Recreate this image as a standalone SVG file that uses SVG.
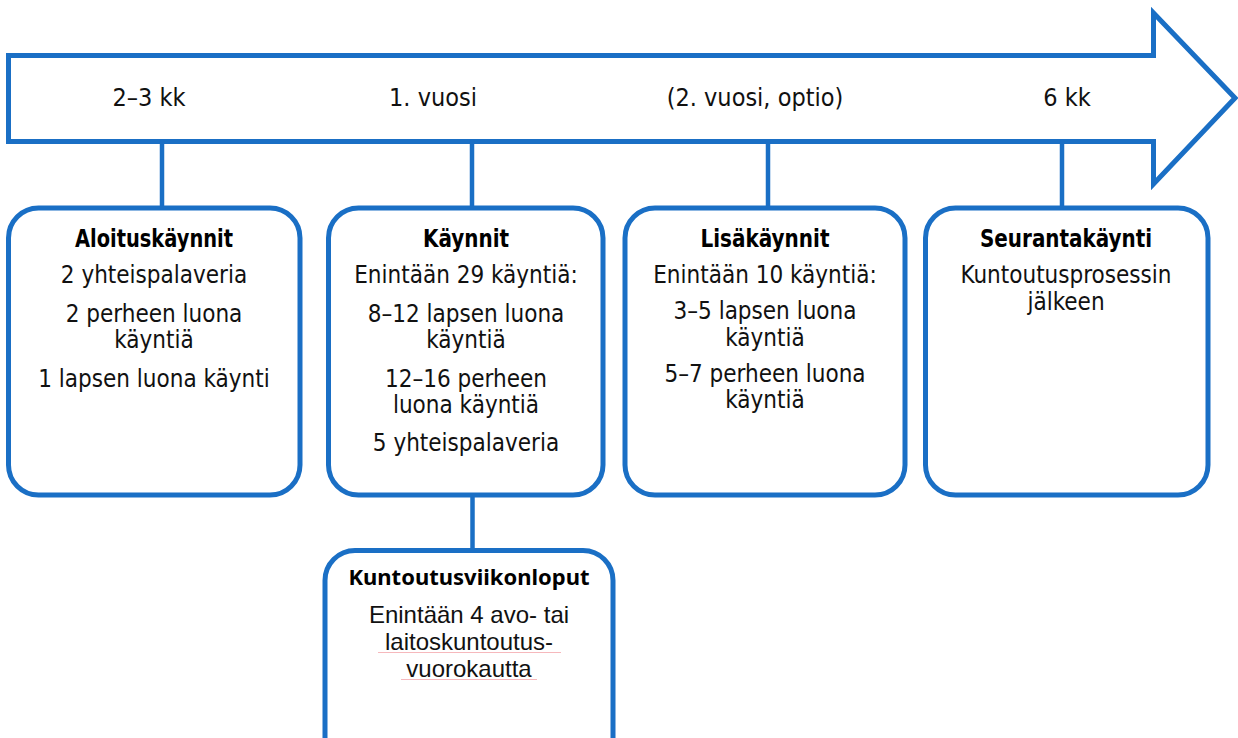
<svg xmlns="http://www.w3.org/2000/svg" width="1238" height="738" viewBox="0 0 1238 738">
<style>
.box{fill:#ffffff;stroke:#1A6FC5;stroke-width:5}
.con{stroke:#1A6FC5;stroke-width:4.5;fill:none}
.t{font-family:"DejaVu Sans Condensed","DejaVu Sans",sans-serif;font-size:24px;fill:#111;text-anchor:middle}
.tl{font-family:"DejaVu Sans Condensed","DejaVu Sans",sans-serif;font-size:25px;fill:#111;text-anchor:middle}
.h{font-family:"DejaVu Sans Condensed","DejaVu Sans",sans-serif;font-size:24px;font-weight:bold;fill:#000;text-anchor:middle}
.nt{font-family:"Liberation Sans",Arial,sans-serif;font-size:24px;fill:#111;text-anchor:middle}
.nh{font-family:"Noto Sans",sans-serif;font-size:22px;font-weight:bold;fill:#000;text-anchor:middle}
.sp{stroke:#f6b8bc;stroke-width:1;fill:none}
</style>
<rect width="1238" height="738" fill="#ffffff"/>
<g id="timeline">
<polygon points="8.5,55.5 1153.5,55.5 1153.5,13 1235,98 1153.5,184 1153.5,141.5 8.5,141.5" fill="#ffffff" stroke="#1A6FC5" stroke-width="5"/>
<text class="tl" x="149" y="106">2–3 kk</text>
<text class="tl" x="433" y="106">1. vuosi</text>
<text class="tl" x="755" y="106">(2. vuosi, optio)</text>
<text class="tl" x="1067" y="106">6 kk</text>
</g>
<g id="connectors">
<line class="con" x1="162" y1="141" x2="162" y2="208"/>
<line class="con" x1="472" y1="141" x2="472" y2="208"/>
<line class="con" x1="768" y1="141" x2="768" y2="208"/>
<line class="con" x1="1062" y1="141" x2="1062" y2="208"/>
<line class="con" x1="472.5" y1="495" x2="472.5" y2="550"/>
</g>
<g id="aloituskaynnit">
<rect class="box" x="8.5" y="208" width="291.5" height="287" rx="30"/>
<text class="h" x="154" y="247" textLength="158" lengthAdjust="spacingAndGlyphs">Aloituskäynnit</text>
<text class="t" x="154" y="283">2 yhteispalaveria</text>
<text class="t" x="154" y="322">2 perheen luona</text>
<text class="t" x="154" y="348">käyntiä</text>
<text class="t" x="154" y="387">1 lapsen luona käynti</text>
</g>
<g id="kaynnit">
<rect class="box" x="328.5" y="208" width="274.5" height="287" rx="30"/>
<text class="h" x="466" y="247" textLength="86" lengthAdjust="spacingAndGlyphs">Käynnit</text>
<text class="t" x="466" y="283">Enintään 29 käyntiä:</text>
<text class="t" x="466" y="322">8–12 lapsen luona</text>
<text class="t" x="466" y="348">käyntiä</text>
<text class="t" x="466" y="387">12–16 perheen</text>
<text class="t" x="466" y="413">luona käyntiä</text>
<text class="t" x="466" y="451">5 yhteispalaveria</text>
</g>
<g id="lisakaynnit">
<rect class="box" x="625" y="208" width="280" height="287" rx="30"/>
<text class="h" x="765" y="247" textLength="129" lengthAdjust="spacingAndGlyphs">Lisäkäynnit</text>
<text class="t" x="765" y="283">Enintään 10 käyntiä:</text>
<text class="t" x="765" y="319">3–5 lapsen luona</text>
<text class="t" x="765" y="346">käyntiä</text>
<text class="t" x="765" y="382">5–7 perheen luona</text>
<text class="t" x="765" y="408">käyntiä</text>
</g>
<g id="seurantakaynti">
<rect class="box" x="925.5" y="208" width="282.5" height="287" rx="30"/>
<text class="h" x="1066" y="247" textLength="172" lengthAdjust="spacingAndGlyphs">Seurantakäynti</text>
<text class="t" x="1066" y="283">Kuntoutusprosessin</text>
<text class="t" x="1066" y="310">jälkeen</text>
</g>
<g id="kuntoutusviikonloput">
<rect class="box" x="325" y="550.5" width="288" height="220" rx="30"/>
<text class="nh" x="469" y="585">Kuntoutusviikonloput</text>
<text class="nt" x="469" y="623">Enintään 4 avo- tai</text>
<text class="nt" x="469" y="650">laitoskuntoutus-</text>
<text class="nt" x="469" y="677">vuorokautta</text>
<line class="sp" x1="378" y1="652.5" x2="561" y2="652.5"/>
<line class="sp" x1="401" y1="679.5" x2="537" y2="679.5"/>
</g>
</svg>
